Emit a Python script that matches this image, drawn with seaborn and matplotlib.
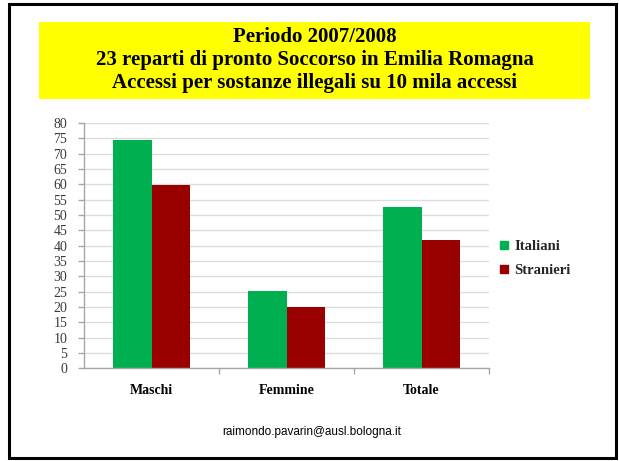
import matplotlib
matplotlib.use("Agg")
import matplotlib.pyplot as plt
from matplotlib.patches import Rectangle
from matplotlib.lines import Line2D
import seaborn as sns
import pandas as pd

categories = ["Maschi", "Femmine", "Totale"]
italiani = [74.5, 25.2, 52.6]
stranieri = [59.8, 20.1, 41.8]
series_names = ["Italiani", "Stranieri"]
colors = ["#00B050", "#990000"]
title_lines = ["Periodo 2007/2008",
               "23 reparti di pronto Soccorso in Emilia Romagna",
               "Accessi per sostanze illegali su 10 mila accessi"]
y_ticks = list(range(0, 85, 5))
footer = "raimondo.pavarin@ausl.bologna.it"

df = pd.DataFrame({
    "cat": categories * 2,
    "serie": [series_names[0]] * 3 + [series_names[1]] * 3,
    "val": italiani + stranieri,
})

sns.set_theme(style="white")
plt.rcParams["font.family"] = ["Liberation Serif", "DejaVu Serif"]

W, H = 619, 461
fig = plt.figure(figsize=(W / 100, H / 100), dpi=100)
fig.patch.set_facecolor("white")

def fx(px):
    return px / W

def fy(py):
    return 1 - py / H

# slide border
fig.patches.append(Rectangle((fx(9), fy(458)), fx(607), (458 - 4) / H,
                             transform=fig.transFigure, fill=False,
                             edgecolor="black", linewidth=2.2, zorder=0))
# yellow title box
fig.patches.append(Rectangle((fx(39), fy(99)), fx(590 - 39), (99 - 22) / H,
                             transform=fig.transFigure, facecolor="#FFFF00",
                             edgecolor="none", zorder=0))
for i, line in enumerate(title_lines):
    fig.text(fx(315), fy(37 + i * 23), line, ha="center", va="center",
             fontsize=15, fontweight="bold", color="black",
             family=["Liberation Serif"])

ax = fig.add_axes([fx(84), fy(368.3), fx(489 - 84), (368.3 - 123) / H])
sns.barplot(data=df, x="cat", y="val", hue="serie", order=categories,
            hue_order=series_names, palette=colors, width=0.57,
            linewidth=0, saturation=1, ax=ax, legend=True)

ax.set_ylim(0, 80)
ax.set_xlim(-0.5, 2.5)
ax.set_yticks(y_ticks)
ax.set_yticklabels([str(v) for v in y_ticks])
ax.set_xlabel("")
ax.set_ylabel("")
ax.yaxis.grid(True, color="#dcdcdc", linewidth=1)
ax.set_axisbelow(True)
for s in ["top", "right"]:
    ax.spines[s].set_visible(False)
for s in ["left", "bottom"]:
    ax.spines[s].set_color("#a6a6a6")
    ax.spines[s].set_linewidth(1)

ax.tick_params(axis="y", which="major", length=4, color="#a6a6a6", width=1,
               left=True, labelsize=10, labelcolor="#3a3a3a", pad=8)
ax.tick_params(axis="x", which="major", length=0, pad=11, labelsize=10)
ax.set_xticks([0.5, 1.5, 2.5], minor=True)
ax.tick_params(axis="x", which="minor", length=4, color="#a6a6a6", width=1,
               bottom=True)
for lbl in ax.get_xticklabels():
    lbl.set_fontweight("bold")
    lbl.set_color("black")

ax.get_legend().remove()
handles = [Line2D([0], [0], marker="s", linestyle="none", markersize=6,
                  markerfacecolor=c, markeredgecolor=c) for c in colors]
leg = fig.legend(handles, series_names, loc="center left",
                 bbox_to_anchor=(fx(498), fy(258.5)), frameon=False,
                 prop={"weight": "bold", "size": 10.5, "family": "Liberation Serif"},
                 handlelength=0.8, handletextpad=0.3, labelspacing=0.75,
                 borderaxespad=0, borderpad=0)

fig.text(fx(312), fy(432), footer, ha="center", va="center", fontsize=8.5,
         color="black", family=["Liberation Sans"])

fig.savefig("out.png", dpi=100)
